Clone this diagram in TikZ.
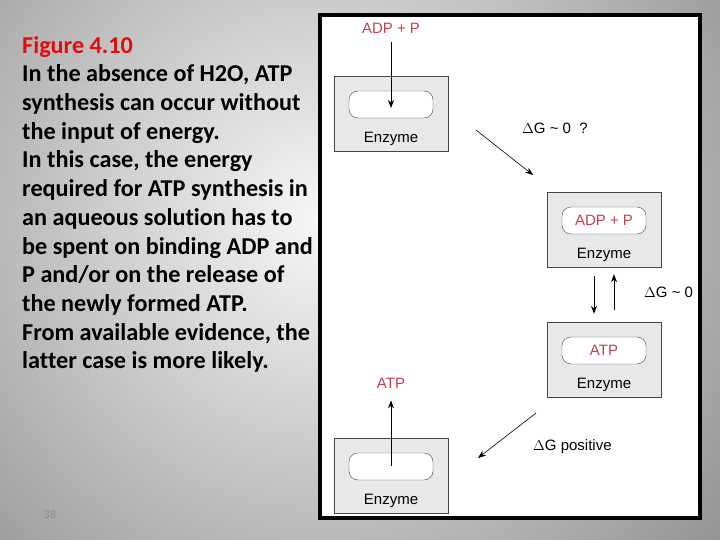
\documentclass[tikz,border=0pt]{standalone}
\usepackage{fontspec}
\setmainfont{Liberation Sans}
\newfontfamily\slidefont[Ligatures=NoCommon]{Carlito}
\definecolor{slideRed}{RGB}{226,12,12}
\definecolor{figRed}{RGB}{198,62,78}
\definecolor{boxGray}{RGB}{232,232,232}
\definecolor{lineGray}{RGB}{70,70,70}
\definecolor{bgLight}{RGB}{247,247,247}
\definecolor{bgDark}{RGB}{146,146,146}
\definecolor{pageGray}{RGB}{138,138,138}
\usetikzlibrary{arrows.meta, positioning, calc}

\begin{document}
\begin{tikzpicture}[x=1pt, y=-1pt,
  >={Stealth[length=8pt, width=6pt]},
  enzyme/.style={draw=lineGray, fill=boxGray, minimum width=114pt,
                 minimum height=75pt, inner sep=0pt},
  site/.style={draw=lineGray, fill=white, rounded corners=9pt, minimum width=84pt,
               minimum height=27pt, inner sep=0pt, text=figRed,
               font=\fontsize{15}{17}\selectfont},
  lbl/.style={inner sep=0pt, font=\fontsize{15}{17}\selectfont},
  flow/.style={->, line width=0.8pt, black},
  slope/.style={->, line width=0.6pt, black}]
  \useasboundingbox (0,0) rectangle (720,540);
  \begin{scope}
    \clip (0,0) rectangle (720,540);
    \shade[inner color=bgLight, outer color=bgDark] (-200,-300) rectangle (840,740);
  \end{scope}
  \draw[line width=4pt, fill=white] (320,15) rectangle (700,518);

  \node[anchor=north west, align=left, inner sep=0pt,
        font=\slidefont\bfseries\fontsize{24.2}{28.7}\selectfont] (caption) at (22,36)
    {{\color{slideRed}Figure 4.10}\\
     In the absence of H2O, ATP\\
     synthesis can occur without\\
     the input of energy.\\
     In this case, the energy\\
     required for ATP synthesis in\\
     an aqueous solution has to\\
     be spent on binding ADP and\\
     P and/or on the release of\\
     the newly formed ATP.\\
     From available evidence, the\\
     latter case is more likely.};
  \node[text=pageGray, font=\slidefont\fontsize{12}{14}\selectfont] (pgnum) at (50,514) {38};

  \foreach \n/\x/\y/\t in {1/391/113.5/{}, 2/604/229.5/{ADP + P}, 3/604/359.5/ATP, 4/391/475.5/{}} {
    \node[enzyme] (enz\n) at (\x,\y) {};
    \node[site] (site\n) at ($(enz\n)+(0,-9)$) {\t};
    \node[lbl, anchor=base] (enzlbl\n) at ($(enz\n.south)+(0,-9)$) {Enzyme};
  }

  \node[lbl, text=figRed] (adpIn) at (391,28) {ADP + P};
  \coordinate (bindTip) at (391,108);
  \draw[flow, shorten <=9pt] (adpIn) -- (bindTip);

  \node[lbl, text=figRed] (atpOut) at (391,383) {ATP};
  \coordinate (releaseFoot) at (391,466);
  \draw[flow, shorten >=12pt] (releaseFoot) -- (atpOut);

  \coordinate (bindFrom) at (476,130);
  \coordinate (bindTo) at (533,175);
  \draw[slope] (bindFrom) -- (bindTo);
  \node[lbl, anchor=west] (dGbind) at (522,128) {$\Delta$G \textasciitilde{} 0\ \ ?};

  \draw[flow, shorten <=9pt, shorten >=8pt] ([xshift=-10pt]enz2.south) -- ([xshift=-10pt]enz3.north);
  \draw[flow, shorten <=12pt, shorten >=7pt] ([xshift=10pt]enz3.north) -- ([xshift=10pt]enz2.south);
  \node[lbl, anchor=west] (dGeq) at (644,292) {$\Delta$G \textasciitilde{} 0};

  \coordinate (relFrom) at (536,413);
  \coordinate (relTo) at (478,458);
  \draw[slope] (relFrom) -- (relTo);
  \node[lbl, anchor=west] (dGrel) at (533,447) {$\Delta$G positive};
\end{tikzpicture}
\end{document}
